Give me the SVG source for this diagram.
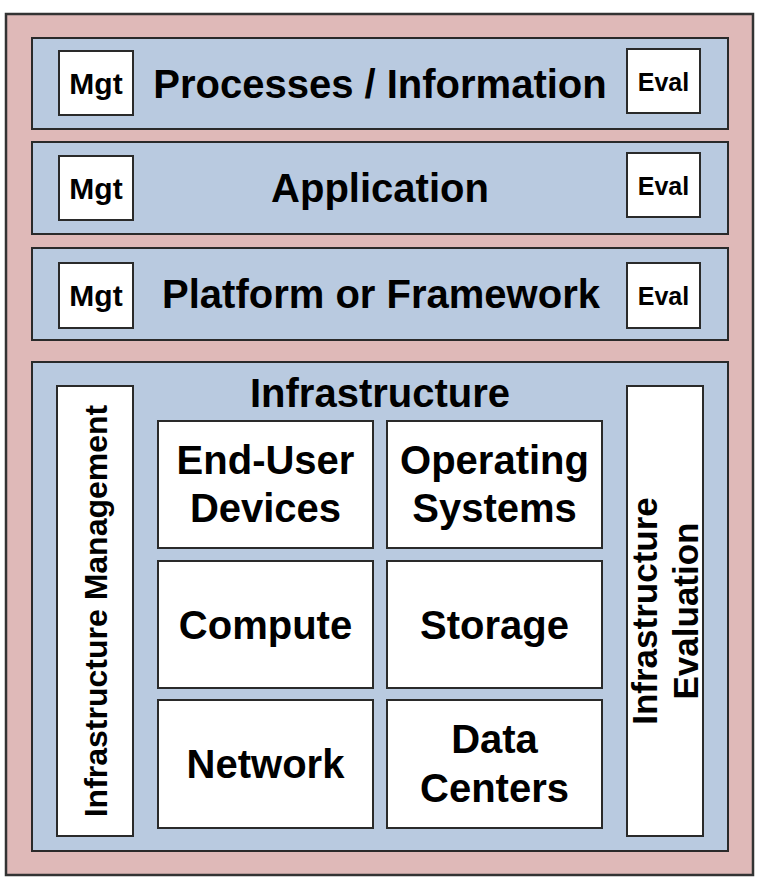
<svg xmlns="http://www.w3.org/2000/svg" width="764" height="884" viewBox="0 0 764 884">
<style>
.frame{fill:#dfb9b8;stroke:#333;stroke-width:2.5}
.band{fill:#b9cae0;stroke:#2a2a2a;stroke-width:2}
.box{fill:#fff;stroke:#2a2a2a;stroke-width:2}
text{font-family:"Liberation Sans",Arial,sans-serif;font-weight:bold;fill:#000;text-anchor:middle}
.t40{font-size:40px}
.mgt{font-size:30px}
.eval{font-size:25px}
</style>
<rect width="764" height="884" fill="#fff"/>
<g id="frame"><rect class="frame" x="6" y="14" width="747" height="861"/></g>

<g id="processes">
<rect class="band" x="32" y="38" width="696" height="91"/>
<text class="t40" x="380" y="98">Processes / Information</text>
</g>
<g id="processes-mgt"><rect class="box" x="59" y="51" width="74" height="64"/><text class="mgt" x="96" y="94">Mgt</text></g>
<g id="processes-eval"><rect class="box" x="627" y="49" width="73" height="64"/><text class="eval" x="663.5" y="91">Eval</text></g>

<g id="application">
<rect class="band" x="32" y="142" width="696" height="92"/>
<text class="t40" x="380" y="202">Application</text>
</g>
<g id="application-mgt"><rect class="box" x="59" y="156" width="74" height="64"/><text class="mgt" x="96" y="199">Mgt</text></g>
<g id="application-eval"><rect class="box" x="627" y="153" width="73" height="64"/><text class="eval" x="663.5" y="195">Eval</text></g>

<g id="platform">
<rect class="band" x="32" y="248" width="696" height="92"/>
<text class="t40" x="381" y="308">Platform or Framework</text>
</g>
<g id="platform-mgt"><rect class="box" x="59" y="263" width="74" height="65"/><text class="mgt" x="96" y="306">Mgt</text></g>
<g id="platform-eval"><rect class="box" x="627" y="263" width="73" height="65"/><text class="eval" x="663.5" y="305">Eval</text></g>

<g id="infrastructure">
<rect class="band" x="32" y="362" width="696" height="489"/>
<text class="t40" x="380" y="407">Infrastructure</text>
</g>

<g id="infra-management">
<rect class="box" x="57" y="386" width="76" height="450"/>
<text x="0" y="0" font-size="32" transform="translate(107,611) rotate(-90)">Infrastructure Management</text>
</g>
<g id="infra-evaluation">
<rect class="box" x="627" y="386" width="76" height="450"/>
<text font-size="35" transform="translate(657,611) rotate(-90)"><tspan x="0" y="0">Infrastructure</tspan><tspan x="0" y="41">Evaluation</tspan></text>
</g>

<g id="end-user-devices">
<rect class="box" x="158" y="421" width="215" height="127"/>
<text class="t40" x="265.5" y="474">End-User</text>
<text class="t40" x="265.5" y="522">Devices</text>
</g>
<g id="operating-systems">
<rect class="box" x="387" y="421" width="215" height="127"/>
<text class="t40" x="494.5" y="474">Operating</text>
<text class="t40" x="494.5" y="522">Systems</text>
</g>
<g id="compute">
<rect class="box" x="158" y="561" width="215" height="127"/>
<text class="t40" x="265.5" y="639">Compute</text>
</g>
<g id="storage">
<rect class="box" x="387" y="561" width="215" height="127"/>
<text class="t40" x="494.5" y="639">Storage</text>
</g>
<g id="network">
<rect class="box" x="158" y="700" width="215" height="128"/>
<text class="t40" x="265.5" y="778">Network</text>
</g>
<g id="data-centers">
<rect class="box" x="387" y="700" width="215" height="128"/>
<text class="t40" x="494.5" y="753">Data</text>
<text class="t40" x="494.5" y="802">Centers</text>
</g>
<g id="connectors"></g>
</svg>
